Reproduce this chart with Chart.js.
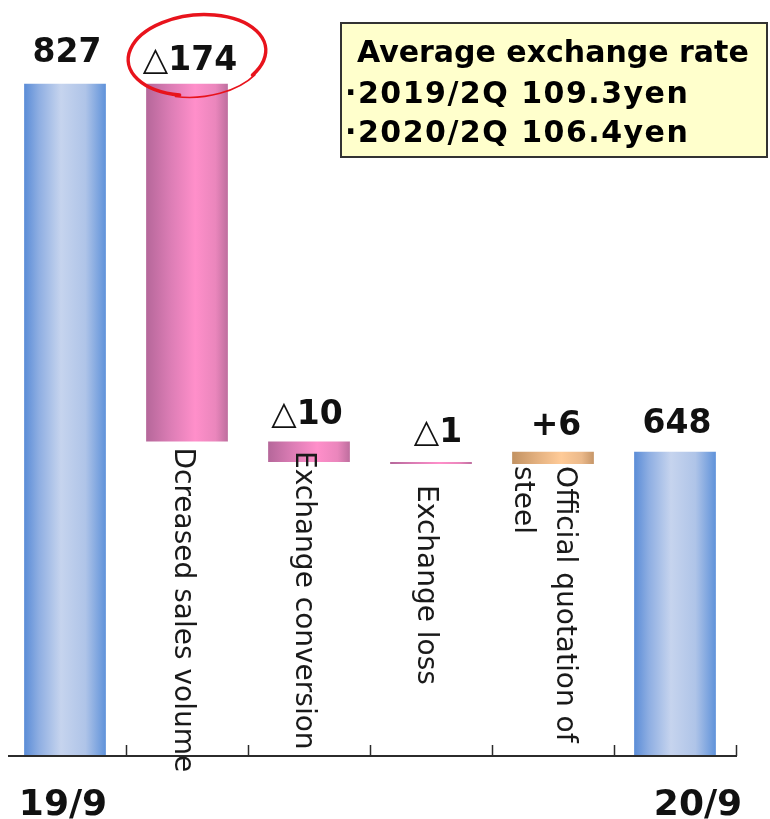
<!DOCTYPE html>
<html>
<head>
<meta charset="utf-8">
<script src="https://cdn.jsdelivr.net/npm/chart.js@4/dist/chart.umd.min.js"></script>
<style>
  html, body { margin: 0; padding: 0; background: #ffffff; }
  #wrap { width: 770px; height: 819px; position: relative; }
</style>
</head>
<body>
<div id="wrap"><canvas id="c"></canvas></div>
<script>
// ---- data ----
const categories = ['19/9', 'Dcreased sales volume', 'Exchange conversion', 'Exchange loss', 'Official quotation of steel', '20/9'];
const categoryLines = [['19/9'], ['Dcreased sales volume'], ['Exchange conversion'], ['Exchange loss'], ['Official quotation of', 'steel'], ['20/9']];
const startTotal = 827;
const changes = [-174, -10, -1, 6];
const endTotal = 648;
const valueLabels = ['827', '△174', '△10', '△1', '+6', '648'];
const axisBase = 500;
const axisTop = 860;
const infoLines = ['Average exchange rate', '·2019/2Q 109.3yen', '·2020/2Q 106.4yen'];

// floating ranges for the waterfall
const ranges = [[axisBase, startTotal]];
let running = startTotal;
changes.forEach(d => { ranges.push([running, running + d]); running += d; });
ranges.push([axisBase, endTotal]);
const kinds = ['total'].concat(changes.map(d => d < 0 ? 'down' : 'up')).concat(['total']);

const stopsByKind = {
  total: [[0, '#5A8CD7'], [0.18, '#8EAEE2'], [0.45, '#C6D4EE'], [0.75, '#AFC4E8'], [1, '#5F92DA']],
  down:  [[0, '#B5679A'], [0.3, '#DC7DB5'], [0.6, '#FF8FCA'], [0.85, '#EA86BC'], [1, '#BE6E9E']],
  up:    [[0, '#C29262'], [0.3, '#E3B07F'], [0.6, '#FFCB98'], [0.85, '#EBB98A'], [1, '#C69668']]
};
const BAR_PCT = 0.67;

function barGradient(ctx) {
  const chart = ctx.chart;
  const xs = chart.scales.x;
  const kind = kinds[ctx.dataIndex];
  if (!chart.chartArea || !xs) return stopsByKind[kind][2][1];
  const c = xs.getPixelForValue(ctx.dataIndex);
  const w = (chart.chartArea.right - chart.chartArea.left) / categories.length * BAR_PCT;
  const g = chart.ctx.createLinearGradient(c - w / 2, 0, c + w / 2, 0);
  stopsByKind[kind].forEach(s => g.addColorStop(s[0], s[1]));
  return g;
}

// decoration positions (pixels relative to bars), not data
const valueGap = [22, 14, 18, 20, 17, 19];
const valueDx = [2, 3, -2, 7, 3, 2];
const rotLabelPos = { 1: { dx: -12, dy: 6 }, 2: { dx: -13, dy: -11 }, 3: { dx: -13, dy: 21 }, 4: { dx: 4, dy: 2 } };

const overlay = {
  id: 'overlay',
  afterDraw(chart) {
    const ctx = chart.ctx;
    const xs = chart.scales.x, ys = chart.scales.y;
    const area = chart.chartArea;
    const baseY = ys.getPixelForValue(axisBase);
    const catW = (area.right - area.left) / categories.length;

    ctx.save();
    // x axis line and inward ticks
    ctx.strokeStyle = '#2b2b2b';
    ctx.lineWidth = 2;
    ctx.beginPath();
    ctx.moveTo(area.left + 4, baseY);
    ctx.lineTo(area.right + 1, baseY);
    ctx.stroke();
    ctx.lineWidth = 1.5;
    for (let i = 1; i <= categories.length; i++) {
      const tx = Math.round(area.left + i * catW) + 0.5;
      ctx.beginPath();
      ctx.moveTo(tx, baseY);
      ctx.lineTo(tx, baseY - 11);
      ctx.stroke();
    }

    // value labels above bars
    ctx.fillStyle = '#111';
    ctx.textAlign = 'center';
    ctx.textBaseline = 'alphabetic';
    ctx.font = 'bold 33px "DejaVu Sans"';
    valueLabels.forEach((t, i) => {
      const top = ys.getPixelForValue(Math.max(ranges[i][0], ranges[i][1]));
      ctx.fillText(t, xs.getPixelForValue(i) + valueDx[i], top - valueGap[i]);
    });

    // rotated category labels
    ctx.fillStyle = '#1a1a1a';
    ctx.font = '28px "DejaVu Sans"';
    Object.keys(rotLabelPos).forEach(k => {
      const i = +k;
      const p = rotLabelPos[i];
      const bottom = ys.getPixelForValue(Math.min(ranges[i][0], ranges[i][1]));
      const bx = xs.getPixelForValue(i) + p.dx;
      const by = bottom + p.dy;
      const lines = categoryLines[i];
      lines.forEach((ln, j) => {
        ctx.save();
        ctx.translate(bx - j * 42, by);
        ctx.rotate(Math.PI / 2);
        ctx.textAlign = 'left';
        ctx.textBaseline = 'alphabetic';
        ctx.fillText(ln, 0, 0);
        ctx.restore();
      });
    });

    // end category labels below axis
    ctx.fillStyle = '#111';
    ctx.font = 'bold 36px "DejaVu Sans"';
    ctx.textAlign = 'center';
    ctx.textBaseline = 'alphabetic';
    ctx.fillText(categoryLines[0][0], xs.getPixelForValue(0) - 2, baseY + 59);
    ctx.fillText(categoryLines[5][0], xs.getPixelForValue(5) + 23, baseY + 59);

    // info box
    ctx.fillStyle = '#FFFFCC';
    ctx.fillRect(340, 22, 428, 136);
    ctx.strokeStyle = '#333';
    ctx.lineWidth = 2;
    ctx.strokeRect(341, 23, 426, 134);
    ctx.fillStyle = '#000';
    ctx.font = 'bold 30px "DejaVu Sans"';
    ctx.textAlign = 'left';
    ctx.fillText(infoLines[0], 357, 62);
    ctx.letterSpacing = '1.5px';
    ctx.fillText(infoLines[1], 345, 103);
    ctx.fillText(infoLines[2], 345, 142);
    ctx.letterSpacing = '0px';

    // red hand-drawn ellipse around the largest change
    const cx = xs.getPixelForValue(1) + 10;
    ctx.strokeStyle = '#E8131C';
    ctx.lineCap = 'round';
    ctx.lineWidth = 3.5;
    ctx.beginPath();
    ctx.ellipse(cx, 55, 69, 40, -0.1, Math.PI * 0.6, Math.PI * 2.22);
    ctx.stroke();
    ctx.lineWidth = 1.6;
    ctx.beginPath();
    ctx.ellipse(cx, 57, 69, 40, -0.1, Math.PI * 2.2, Math.PI * 2.62);
    ctx.stroke();
    ctx.restore();
  }
};

new Chart(document.getElementById('c'), {
  type: 'bar',
  data: {
    labels: categories,
    datasets: [{
      data: ranges,
      backgroundColor: barGradient,
      borderWidth: 0,
      barPercentage: BAR_PCT,
      categoryPercentage: 1.0
    }]
  },
  options: {
    responsive: true,
    maintainAspectRatio: false,
    animation: false,
    layout: { padding: { left: 4, right: 34, top: 16, bottom: 63 } },
    plugins: { legend: { display: false }, tooltip: { enabled: false } },
    scales: {
      x: { display: false, offset: true },
      y: { display: false, min: axisBase, max: axisTop }
    }
  },
  plugins: [overlay]
});
</script>
</body>
</html>
